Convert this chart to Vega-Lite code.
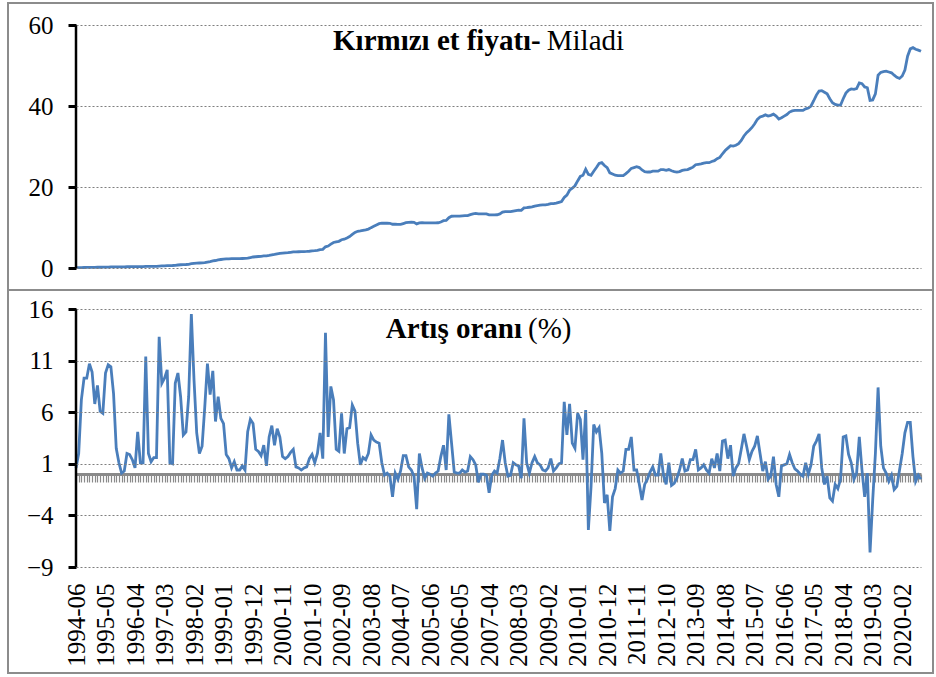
{
"$schema":"https://vega.github.io/schema/vega-lite/v6.json",
"background":"white",
"padding":{"left":7,"top":2,"right":0,"bottom":0},
"spacing":0,
"bounds":"flush",
"config":{"view":{"stroke":"#8c8c8c","strokeWidth":2},"concat":{"spacing":0},"font":"Liberation Serif","axis":{"labelFont":"Liberation Serif","labelColor":"black"},"style":{"guide-label":{"font":"Liberation Serif"}}},
"resolve":{"scale":{"x":"independent","y":"independent"}},
"data":{"values":[
{"d":"1994-06","p":0.10,"r":0.6},{"d":"1994-07","p":0.10,"r":2.0},{"d":"1994-08","p":0.11,"r":7.2},{"d":"1994-09","p":0.12,"r":9.3},{"d":"1994-10","p":0.13,"r":9.3},{"d":"1994-11","p":0.14,"r":10.7},{"d":"1994-12","p":0.16,"r":9.9},
{"d":"1995-01","p":0.17,"r":6.8},{"d":"1995-02","p":0.18,"r":8.6},{"d":"1995-03","p":0.19,"r":6.1},{"d":"1995-04","p":0.20,"r":5.9},{"d":"1995-05","p":0.22,"r":9.8},{"d":"1995-06","p":0.24,"r":10.6},{"d":"1995-07","p":0.27,"r":10.4},{"d":"1995-08","p":0.29,"r":7.8},{"d":"1995-09","p":0.30,"r":2.5},{"d":"1995-10","p":0.30,"r":1.1},{"d":"1995-11","p":0.30,"r":0.1},{"d":"1995-12","p":0.30,"r":0.3},
{"d":"1996-01","p":0.31,"r":2.0},{"d":"1996-02","p":0.32,"r":1.9},{"d":"1996-03","p":0.32,"r":1.4},{"d":"1996-04","p":0.32,"r":0.6},{"d":"1996-05","p":0.34,"r":4.1},{"d":"1996-06","p":0.34,"r":1.1},{"d":"1996-07","p":0.34,"r":1.1},{"d":"1996-08","p":0.38,"r":11.4},{"d":"1996-09","p":0.39,"r":2.0},{"d":"1996-10","p":0.39,"r":1.2},{"d":"1996-11","p":0.40,"r":1.6},{"d":"1996-12","p":0.41,"r":1.6},
{"d":"1997-01","p":0.46,"r":13.3},{"d":"1997-02","p":0.50,"r":8.8},{"d":"1997-03","p":0.55,"r":9.3},{"d":"1997-04","p":0.60,"r":10.1},{"d":"1997-05","p":0.61,"r":1.1},{"d":"1997-06","p":0.62,"r":1.0},{"d":"1997-07","p":0.67,"r":8.8},{"d":"1997-08","p":0.74,"r":9.8},{"d":"1997-09","p":0.80,"r":7.5},{"d":"1997-10","p":0.83,"r":3.8},{"d":"1997-11","p":0.86,"r":4.1},{"d":"1997-12","p":0.92,"r":7.5},
{"d":"1998-01","p":1.06,"r":15.5},{"d":"1998-02","p":1.16,"r":9.1},{"d":"1998-03","p":1.20,"r":4.0},{"d":"1998-04","p":1.23,"r":2.0},{"d":"1998-05","p":1.26,"r":2.7},{"d":"1998-06","p":1.34,"r":6.5},{"d":"1998-07","p":1.48,"r":10.7},{"d":"1998-08","p":1.60,"r":7.7},{"d":"1998-09","p":1.76,"r":10.0},{"d":"1998-10","p":1.85,"r":5.1},{"d":"1998-11","p":1.99,"r":7.5},{"d":"1998-12","p":2.10,"r":5.4},
{"d":"1999-01","p":2.20,"r":4.9},{"d":"1999-02","p":2.24,"r":1.9},{"d":"1999-03","p":2.27,"r":1.5},{"d":"1999-04","p":2.29,"r":0.6},{"d":"1999-05","p":2.31,"r":1.2},{"d":"1999-06","p":2.32,"r":0.4},{"d":"1999-07","p":2.33,"r":0.4},{"d":"1999-08","p":2.35,"r":0.8},{"d":"1999-09","p":2.36,"r":0.4},{"d":"1999-10","p":2.46,"r":4.1},{"d":"1999-11","p":2.59,"r":5.3},{"d":"1999-12","p":2.72,"r":4.9},
{"d":"2000-01","p":2.78,"r":2.4},{"d":"2000-02","p":2.84,"r":2.2},{"d":"2000-03","p":2.89,"r":1.8},{"d":"2000-04","p":2.97,"r":2.8},{"d":"2000-05","p":3.00,"r":0.8},{"d":"2000-06","p":3.11,"r":3.6},{"d":"2000-07","p":3.25,"r":4.7},{"d":"2000-08","p":3.34,"r":2.8},{"d":"2000-09","p":3.49,"r":4.4},{"d":"2000-10","p":3.61,"r":3.6},{"d":"2000-11","p":3.67,"r":1.7},{"d":"2000-12","p":3.73,"r":1.5},
{"d":"2001-01","p":3.79,"r":1.7},{"d":"2001-02","p":3.87,"r":2.1},{"d":"2001-03","p":3.96,"r":2.4},{"d":"2001-04","p":3.99,"r":0.7},{"d":"2001-05","p":4.01,"r":0.6},{"d":"2001-06","p":4.03,"r":0.4},{"d":"2001-07","p":4.05,"r":0.6},{"d":"2001-08","p":4.08,"r":0.7},{"d":"2001-09","p":4.14,"r":1.5},{"d":"2001-10","p":4.22,"r":1.9},{"d":"2001-11","p":4.27,"r":1.1},{"d":"2001-12","p":4.35,"r":2.0},
{"d":"2002-01","p":4.53,"r":4.0},{"d":"2002-02","p":4.60,"r":1.5},{"d":"2002-03","p":5.23,"r":13.7},{"d":"2002-04","p":5.42,"r":3.6},{"d":"2002-05","p":5.88,"r":8.5},{"d":"2002-06","p":6.30,"r":7.2},{"d":"2002-07","p":6.45,"r":2.4},{"d":"2002-08","p":6.59,"r":2.2},{"d":"2002-09","p":6.98,"r":5.9},{"d":"2002-10","p":7.12,"r":2.0},{"d":"2002-11","p":7.43,"r":4.4},{"d":"2002-12","p":7.77,"r":4.5},
{"d":"2003-01","p":8.29,"r":6.7},{"d":"2003-02","p":8.79,"r":6.1},{"d":"2003-03","p":9.06,"r":3.0},{"d":"2003-04","p":9.14,"r":0.9},{"d":"2003-05","p":9.29,"r":1.6},{"d":"2003-06","p":9.42,"r":1.4},{"d":"2003-07","p":9.61,"r":2.0},{"d":"2003-08","p":9.97,"r":3.8},{"d":"2003-09","p":10.30,"r":3.3},{"d":"2003-10","p":10.62,"r":3.1},{"d":"2003-11","p":10.94,"r":3.0},{"d":"2003-12","p":11.06,"r":1.1},
{"d":"2004-01","p":11.05,"r":-0.1},{"d":"2004-02","p":11.06,"r":0.1},{"d":"2004-03","p":11.04,"r":-0.2},{"d":"2004-04","p":10.80,"r":-2.2},{"d":"2004-05","p":10.81,"r":0.1},{"d":"2004-06","p":10.76,"r":-0.5},{"d":"2004-07","p":10.79,"r":0.3},{"d":"2004-08","p":10.98,"r":1.8},{"d":"2004-09","p":11.18,"r":1.8},{"d":"2004-10","p":11.26,"r":0.7},{"d":"2004-11","p":11.30,"r":0.4},{"d":"2004-12","p":11.28,"r":-0.2},
{"d":"2005-01","p":10.90,"r":-3.4},{"d":"2005-02","p":11.12,"r":2.0},{"d":"2005-03","p":11.19,"r":0.6},{"d":"2005-04","p":11.14,"r":-0.4},{"d":"2005-05","p":11.15,"r":0.1},{"d":"2005-06","p":11.15,"r":0.0},{"d":"2005-07","p":11.13,"r":-0.2},{"d":"2005-08","p":11.14,"r":0.1},{"d":"2005-09","p":11.17,"r":0.3},{"d":"2005-10","p":11.36,"r":1.7},{"d":"2005-11","p":11.68,"r":2.8},{"d":"2005-12","p":11.73,"r":0.4},
{"d":"2006-01","p":12.41,"r":5.8},{"d":"2006-02","p":12.78,"r":3.0},{"d":"2006-03","p":12.81,"r":0.2},{"d":"2006-04","p":12.82,"r":0.1},{"d":"2006-05","p":12.83,"r":0.1},{"d":"2006-06","p":12.88,"r":0.4},{"d":"2006-07","p":12.91,"r":0.2},{"d":"2006-08","p":12.95,"r":0.3},{"d":"2006-09","p":13.17,"r":1.7},{"d":"2006-10","p":13.35,"r":1.4},{"d":"2006-11","p":13.47,"r":0.9},{"d":"2006-12","p":13.36,"r":-0.8},
{"d":"2007-01","p":13.36,"r":0.0},{"d":"2007-02","p":13.36,"r":0.0},{"d":"2007-03","p":13.35,"r":-0.1},{"d":"2007-04","p":13.11,"r":-1.8},{"d":"2007-05","p":13.10,"r":-0.1},{"d":"2007-06","p":13.14,"r":0.3},{"d":"2007-07","p":13.15,"r":0.1},{"d":"2007-08","p":13.35,"r":1.5},{"d":"2007-09","p":13.79,"r":3.3},{"d":"2007-10","p":13.94,"r":1.1},{"d":"2007-11","p":13.91,"r":-0.2},{"d":"2007-12","p":13.90,"r":-0.1},
{"d":"2008-01","p":14.05,"r":1.1},{"d":"2008-02","p":14.18,"r":0.9},{"d":"2008-03","p":14.29,"r":0.8},{"d":"2008-04","p":14.23,"r":-0.4},{"d":"2008-05","p":14.85,"r":5.4},{"d":"2008-06","p":14.9,"r":1.1},{"d":"2008-07","p":15.0,"r":0.1},{"d":"2008-08","p":15.1,"r":1.1},{"d":"2008-09","p":15.3,"r":1.7},{"d":"2008-10","p":15.4,"r":1.1},{"d":"2008-11","p":15.5,"r":0.9},{"d":"2008-12","p":15.6,"r":0.4},
{"d":"2009-01","p":15.6,"r":0.3},{"d":"2009-02","p":15.7,"r":0.6},{"d":"2009-03","p":15.9,"r":1.5},{"d":"2009-04","p":15.9,"r":0.3},{"d":"2009-05","p":16.0,"r":0.6},{"d":"2009-06","p":16.2,"r":1.0},{"d":"2009-07","p":16.4,"r":1.1},{"d":"2009-08","p":17.4,"r":7.0},{"d":"2009-09","p":18.0,"r":3.8},{"d":"2009-10","p":19.2,"r":6.8},{"d":"2009-11","p":19.7,"r":3.0},{"d":"2009-12","p":20.3,"r":2.5},
{"d":"2010-01","p":21.5,"r":5.9},{"d":"2010-02","p":22.6,"r":5.3},{"d":"2010-03","p":22.9,"r":1.4},{"d":"2010-04","p":24.4,"r":6.2},{"d":"2010-05","p":23.1,"r":-5.4},{"d":"2010-06","p":22.9,"r":-1.2},{"d":"2010-07","p":23.9,"r":4.8},{"d":"2010-08","p":24.8,"r":4.1},{"d":"2010-09","p":25.8,"r":4.5},{"d":"2010-10","p":26.0,"r":2.0},{"d":"2010-11","p":25.3,"r":-2.8},{"d":"2010-12","p":24.8,"r":-2.0},
{"d":"2011-01","p":23.5,"r":-5.5},{"d":"2011-02","p":23.2,"r":-2.2},{"d":"2011-03","p":22.9,"r":-1.4},{"d":"2011-04","p":22.8,"r":0.4},{"d":"2011-05","p":22.8,"r":0.1},{"d":"2011-06","p":22.8,"r":0.3},{"d":"2011-07","p":23.3,"r":2.4},{"d":"2011-08","p":23.9,"r":2.4},{"d":"2011-09","p":24.6,"r":3.6},{"d":"2011-10","p":24.8,"r":0.4},{"d":"2011-11","p":25.0,"r":0.4},{"d":"2011-12","p":24.8,"r":-1.0},
{"d":"2012-01","p":24.2,"r":-2.5},{"d":"2012-02","p":23.8,"r":-1.0},{"d":"2012-03","p":23.7,"r":-0.5},{"d":"2012-04","p":23.7,"r":0.2},{"d":"2012-05","p":23.9,"r":0.7},{"d":"2012-06","p":23.9,"r":-0.1},{"d":"2012-07","p":23.9,"r":-0.1},{"d":"2012-08","p":24.3,"r":2.0},{"d":"2012-09","p":24.3,"r":-0.1},{"d":"2012-10","p":24.1,"r":-1.0},{"d":"2012-11","p":24.3,"r":1.1},{"d":"2012-12","p":24.0,"r":-1.1},
{"d":"2013-01","p":23.8,"r":-0.9},{"d":"2013-02","p":23.7,"r":-0.4},{"d":"2013-03","p":23.8,"r":0.4},{"d":"2013-04","p":24.1,"r":1.5},{"d":"2013-05","p":24.2,"r":0.3},{"d":"2013-06","p":24.3,"r":0.4},{"d":"2013-07","p":24.6,"r":1.4},{"d":"2013-08","p":24.9,"r":1.4},{"d":"2013-09","p":25.5,"r":2.4},{"d":"2013-10","p":25.6,"r":0.4},{"d":"2013-11","p":25.7,"r":0.6},{"d":"2013-12","p":25.9,"r":0.9},
{"d":"2014-01","p":26.0,"r":0.4},{"d":"2014-02","p":26.0,"r":0.1},{"d":"2014-03","p":26.3,"r":1.5},{"d":"2014-04","p":26.5,"r":0.6},{"d":"2014-05","p":27.0,"r":2.0},{"d":"2014-06","p":27.3,"r":0.3},{"d":"2014-07","p":28.2,"r":3.2},{"d":"2014-08","p":29.0,"r":3.3},{"d":"2014-09","p":29.6,"r":1.5},{"d":"2014-10","p":30.2,"r":2.8},{"d":"2014-11","p":30.1,"r":-0.2},{"d":"2014-12","p":30.3,"r":0.6},
{"d":"2015-01","p":30.7,"r":1.0},{"d":"2015-02","p":31.5,"r":2.4},{"d":"2015-03","p":32.6,"r":3.9},{"d":"2015-04","p":33.4,"r":2.7},{"d":"2015-05","p":34.0,"r":1.4},{"d":"2015-06","p":34.7,"r":2.2},{"d":"2015-07","p":35.6,"r":2.7},{"d":"2015-08","p":36.7,"r":3.7},{"d":"2015-09","p":37.3,"r":2.0},{"d":"2015-10","p":37.5,"r":0.3},{"d":"2015-11","p":37.8,"r":1.2},{"d":"2015-12","p":37.5,"r":-0.5},
{"d":"2016-01","p":37.7,"r":-0.2},{"d":"2016-02","p":38.0,"r":1.7},{"d":"2016-03","p":37.5,"r":-1.0},{"d":"2016-04","p":36.8,"r":-2.2},{"d":"2016-05","p":37.1,"r":0.8},{"d":"2016-06","p":37.5,"r":0.9},{"d":"2016-07","p":37.9,"r":1.0},{"d":"2016-08","p":38.5,"r":1.9},{"d":"2016-09","p":38.8,"r":1.1},{"d":"2016-10","p":38.9,"r":0.5},{"d":"2016-11","p":38.9,"r":0.3},{"d":"2016-12","p":38.9,"r":0.0},
{"d":"2017-01","p":38.9,"r":-0.2},{"d":"2017-02","p":39.3,"r":1.1},{"d":"2017-03","p":39.5,"r":0.0},{"d":"2017-04","p":40.0,"r":0.9},{"d":"2017-05","p":41.3,"r":2.7},{"d":"2017-06","p":42.7,"r":3.2},{"d":"2017-07","p":43.7,"r":3.9},{"d":"2017-08","p":43.8,"r":0.6},{"d":"2017-09","p":43.4,"r":-1.0},{"d":"2017-10","p":43.0,"r":-0.2},{"d":"2017-11","p":41.8,"r":-2.3},{"d":"2017-12","p":40.8,"r":-2.6},
{"d":"2018-01","p":40.4,"r":-1.0},{"d":"2018-02","p":40.2,"r":-1.4},{"d":"2018-03","p":40.2,"r":-0.5},{"d":"2018-04","p":41.8,"r":3.6},{"d":"2018-05","p":43.2,"r":3.7},{"d":"2018-06","p":43.9,"r":1.9},{"d":"2018-07","p":44.2,"r":1.1},{"d":"2018-08","p":44.1,"r":-0.5},{"d":"2018-09","p":44.3,"r":0.1},{"d":"2018-10","p":45.7,"r":3.6},{"d":"2018-11","p":45.5,"r":0.4},{"d":"2018-12","p":44.7,"r":-2.2},
{"d":"2019-01","p":44.5,"r":0.1},{"d":"2019-02","p":41.4,"r":-7.6},{"d":"2019-03","p":41.5,"r":-2.5},{"d":"2019-04","p":43.0,"r":2.0},{"d":"2019-05","p":47.6,"r":8.4},{"d":"2019-06","p":48.3,"r":2.7},{"d":"2019-07","p":48.5,"r":0.6},{"d":"2019-08","p":48.6,"r":0.1},{"d":"2019-09","p":48.4,"r":-0.7},{"d":"2019-10","p":48.2,"r":-0.1},{"d":"2019-11","p":47.6,"r":-1.5},{"d":"2019-12","p":47.1,"r":-1.2},
{"d":"2020-01","p":46.8,"r":0.4},{"d":"2020-02","p":47.4,"r":2.0},{"d":"2020-03","p":48.9,"r":4.0},{"d":"2020-04","p":52.3,"r":5.0},{"d":"2020-05","p":54.1,"r":5.0},{"d":"2020-06","p":54.4,"r":1.7},{"d":"2020-07","p":54.0,"r":-0.7},{"d":"2020-08","p":53.8,"r":-0.1},{"d":"2020-09","p":53.5,"r":-0.5}
]},
"vconcat":[
{"width":925,"height":287,
 "layer":[
  {"mark":{"type":"line","color":"#4a7ebb","strokeWidth":2.8},
   "encoding":{
    "x":{"field":"d","type":"ordinal","scale":{"type":"point","range":[68,913],"padding":0},"axis":null},
    "y":{"field":"p","type":"quantitative","scale":{"domain":[0,60],"range":[265,22],"nice":false},
     "axis":{"values":[0,20,40,60],"offset":-68,"title":null,"domain":false,"ticks":true,"tickColor":"black","tickWidth":3,"tickSize":8,"tickOpacity":1,"labelFont":"Liberation Serif","labelColor":"black","labelFontSize":25,"labelPadding":15,"grid":true,"gridColor":"#7f7f7f","gridDash":[2,2],"gridWidth":1,"zindex":1}}}},
  {"data":{"values":[{}]},"mark":{"type":"rule","color":"black","strokeWidth":2.5},
   "encoding":{"x":{"datum":"1994-06","type":"ordinal"},"y":{"datum":0,"type":"quantitative"},"y2":{"datum":60}}},
  {"data":{"values":[{}]},"mark":{"type":"text","align":"right","baseline":"alphabetic","fontWeight":"bold","fontSize":29,"dx":-2,"color":"black","font":"Liberation Serif"},
   "encoding":{"x":{"datum":"2008-12","type":"ordinal"},"y":{"datum":53.8,"type":"quantitative"},"text":{"value":"Kırmızı et fiyatı-"}}},
  {"data":{"values":[{}]},"mark":{"type":"text","align":"left","baseline":"alphabetic","fontWeight":"normal","fontSize":29,"dx":4,"color":"black","font":"Liberation Serif"},
   "encoding":{"x":{"datum":"2008-12","type":"ordinal"},"y":{"datum":53.8,"type":"quantitative"},"text":{"value":"Miladi"}}}
 ]},
{"width":925,"height":383,
 "layer":[
  {"mark":{"type":"line","color":"#4a7ebb","strokeWidth":2.8},
   "encoding":{
    "x":{"field":"d","type":"ordinal","scale":{"type":"point","range":[68,913],"padding":0},
     "axis":{"orient":"bottom","offset":-199,"title":null,"domain":true,"ticks":true,"domainColor":"#8a8a8a","domainWidth":3,"domainOpacity":1,"tickColor":"#8a8a8a","tickWidth":1.2,"tickSize":8,"tickOpacity":1,"labelAngle":-90,"labelFont":"Liberation Serif","labelColor":"black","labelFontSize":25,"labelPadding":101,"labelOverlap":false,"labelBound":false,"grid":false,
      "labelExpr":"(toNumber(slice(datum.value,0,4))*12+toNumber(slice(datum.value,5,7))-23934)%11==0 ? datum.value : ''"}},
    "y":{"field":"r","type":"quantitative","scale":{"domain":[-9,16],"range":[277,19],"nice":false,"zero":false},
     "axis":{"values":[-9,-4,1,6,11,16],"offset":-68,"title":null,"domain":false,"ticks":true,"tickColor":"black","tickWidth":3,"tickSize":8,"tickOpacity":1,"labelFont":"Liberation Serif","labelColor":"black","labelFontSize":25,"labelPadding":15,"grid":true,"gridColor":"#7f7f7f","gridDash":[2,2],"gridWidth":1,"zindex":1}}}},
  {"data":{"values":[{}]},"mark":{"type":"rule","color":"black","strokeWidth":2.5},
   "encoding":{"x":{"datum":"1994-06","type":"ordinal"},"y":{"datum":-9,"type":"quantitative"},"y2":{"datum":16}}},
  {"data":{"values":[{}]},"mark":{"type":"text","align":"right","baseline":"alphabetic","fontWeight":"bold","fontSize":29,"dx":-2,"color":"black","font":"Liberation Serif"},
   "encoding":{"x":{"datum":"2008-05","type":"ordinal"},"y":{"datum":13.15,"type":"quantitative"},"text":{"value":"Artış oranı"}}},
  {"data":{"values":[{}]},"mark":{"type":"text","align":"left","baseline":"alphabetic","fontWeight":"normal","fontSize":29,"dx":4,"color":"black","font":"Liberation Serif"},
   "encoding":{"x":{"datum":"2008-05","type":"ordinal"},"y":{"datum":13.15,"type":"quantitative"},"text":{"value":"(%)"}}}
 ]}
]
}
